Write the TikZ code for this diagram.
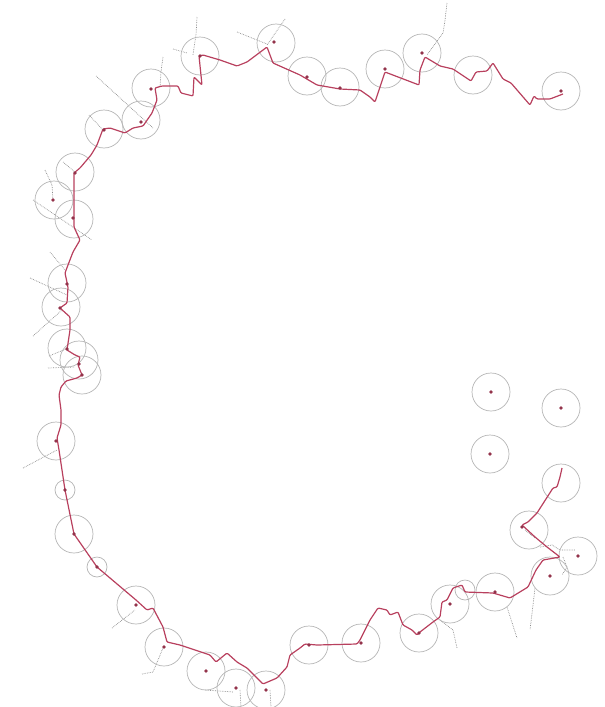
\documentclass[tikz,border=0pt]{standalone}
\usepackage{tikz}
\definecolor{track}{HTML}{B8405E}
\definecolor{ring}{HTML}{B4B4B4}
\definecolor{trail}{HTML}{8C8C8C}

\begin{document}
\begin{tikzpicture}[
    x=1pt, y=-1pt,
    zone/.style={draw=ring, line width=0.7pt},
    stop/.style={fill=track!80!black},
    route/.style={draw=track, line width=1.2pt, line join=round, rounded corners=1pt},
    side/.style={draw=trail, densely dotted, line width=0.7pt},
  ]
  \useasboundingbox (0,0) rectangle (605,707);
  % ---- side trails
  \draw[side] (197,17) -- (196,35) -- (193,55);
  \draw[side] (173,49) -- (187,53);
  \draw[side] (285,19) -- (276,32) -- (267,45);
  \draw[side] (237,32) -- (267,44);
  \draw[side] (163,57) -- (161,72) -- (160,87);
  \draw[side] (96,76) -- (153,128);
  \draw[side] (89,115) -- (103,130);
  \draw[side] (63,162) -- (76,173);
  \draw[side] (45,170) -- (52,185) -- (53,200);
  \draw[side] (33,200) -- (92,240);
  \draw[side] (447,3) -- (445,20) -- (443,33) -- (427,55);
  \draw[side] (50,252) -- (65,270);
  \draw[side] (30,278) -- (67,295);
  \draw[side] (33,336) -- (62,310);
  \draw[side] (49,356) -- (66,349);
  \draw[side] (48,368) -- (75,367);
  \draw[side] (23,468) -- (57,450);
  \draw[side] (112,628) -- (135,610);
  \draw[side] (142,674) -- (153,672) -- (163,648);
  \draw[side] (205,690) -- (233,692);
  \draw[side] (240,690) -- (241,707);
  \draw[side] (270,690) -- (271,707);
  \draw[side] (440,620) -- (453,630) -- (457,648);
  \draw[side] (507,607) -- (517,638);
  \draw[side] (535,588) -- (530,630);
  \draw[side] (540,547) -- (552,545) -- (560,550) -- (575,550);
  \draw[side] (563,557) -- (567,567) -- (562,575);
  \draw[side] (525,530) -- (535,538);
  % ---- zones
  \foreach \cx/\cy in {200/56, 276/43, 151/88, 141/120, 104/129, 75/172, 54/200, 74/219,
      307/76, 340/87, 385/69, 422/53, 473/75, 561/91,
      67/283, 61/307, 67/348, 79/360, 82/375, 56/441,
      74/534, 136/605, 164/647, 206/671, 236/688, 266/690,
      309/645, 361/643, 419/633, 450/604, 495/592, 550/576, 578/556,
      491/392, 561/408, 490/454, 561/483, 529/530}
    \draw[zone] (\cx,\cy) circle (19);
  \foreach \cx/\cy in {65/490, 97/567, 465/590}
    \draw[zone] (\cx,\cy) circle (10);
  % ---- route
  \draw[route] (563,94) -- (550,99) -- (537,99) -- (534,96) -- (530,105) -- (511,83)
    -- (503,79) -- (493,63) -- (487,71) -- (476,72) -- (471,81) -- (453,69) -- (440,66)
    -- (425,57) -- (420,70) -- (419,85) -- (385,72) -- (375,102) -- (370,97) -- (360,90)
    -- (340,89) -- (317,85) -- (300,75) -- (273,63) -- (267,47) -- (247,62) -- (237,66)
    -- (220,60) -- (203,55) -- (199,56) -- (202,85) -- (194,77) -- (193,96) -- (181,93)
    -- (178,86) -- (162,86) -- (155,88) -- (157,100) -- (152,113) -- (143,126) -- (133,128)
    -- (125,133) -- (116,130) -- (110,128) -- (103,129) -- (97,145) -- (91,155) -- (80,168)
    -- (74,173) -- (74,227) -- (80,240) -- (73,252) -- (68,265) -- (65,273) -- (68,287)
    -- (67,303) -- (60,308) -- (70,317) -- (70,330) -- (67,350) -- (75,355) -- (80,357)
    -- (78,365) -- (82,375) -- (77,378) -- (66,381) -- (61,387) -- (59,395) -- (61,410)
    -- (61,425) -- (57,438) -- (59,450) -- (65,490) -- (74,534) -- (97,567) -- (136,600)
    -- (147,610) -- (153,608) -- (163,627) -- (167,642) -- (180,645) -- (210,655)
    -- (216,662) -- (227,653) -- (237,662) -- (247,668) -- (263,684) -- (277,678)
    -- (287,667) -- (290,655) -- (300,648) -- (305,644) -- (317,645) -- (357,644)
    -- (360,640) -- (370,620) -- (378,608) -- (387,610) -- (390,615) -- (398,612)
    -- (403,625) -- (412,630) -- (417,635) -- (420,632) -- (433,622) -- (440,617)
    -- (442,602) -- (447,600) -- (453,588) -- (462,585) -- (465,592) -- (493,593)
    -- (510,598) -- (528,587) -- (536,570) -- (543,560) -- (560,557) -- (547,547)
    -- (535,537) -- (522,525) -- (528,522) -- (537,513) -- (553,488) -- (557,487)
    -- (560,477) -- (562,468);
  % ---- stops
  \foreach \cx/\cy in {200/56, 274/42, 151/89, 141/122, 104/130, 75/173, 53/200, 73/218,
      307/77, 340/88, 385/69, 422/53, 561/91,
      67/284, 60/308, 67/349, 79/364, 82/375, 56/441, 65/490,
      74/534, 97/567, 136/605, 164/647, 206/671, 236/688, 266/690,
      309/645, 361/643, 419/633, 450/604, 495/592, 550/576, 578/556,
      491/392, 561/408, 490/454, 522/527}
    \fill[stop] (\cx,\cy) circle (1.8);
\end{tikzpicture}
\end{document}
